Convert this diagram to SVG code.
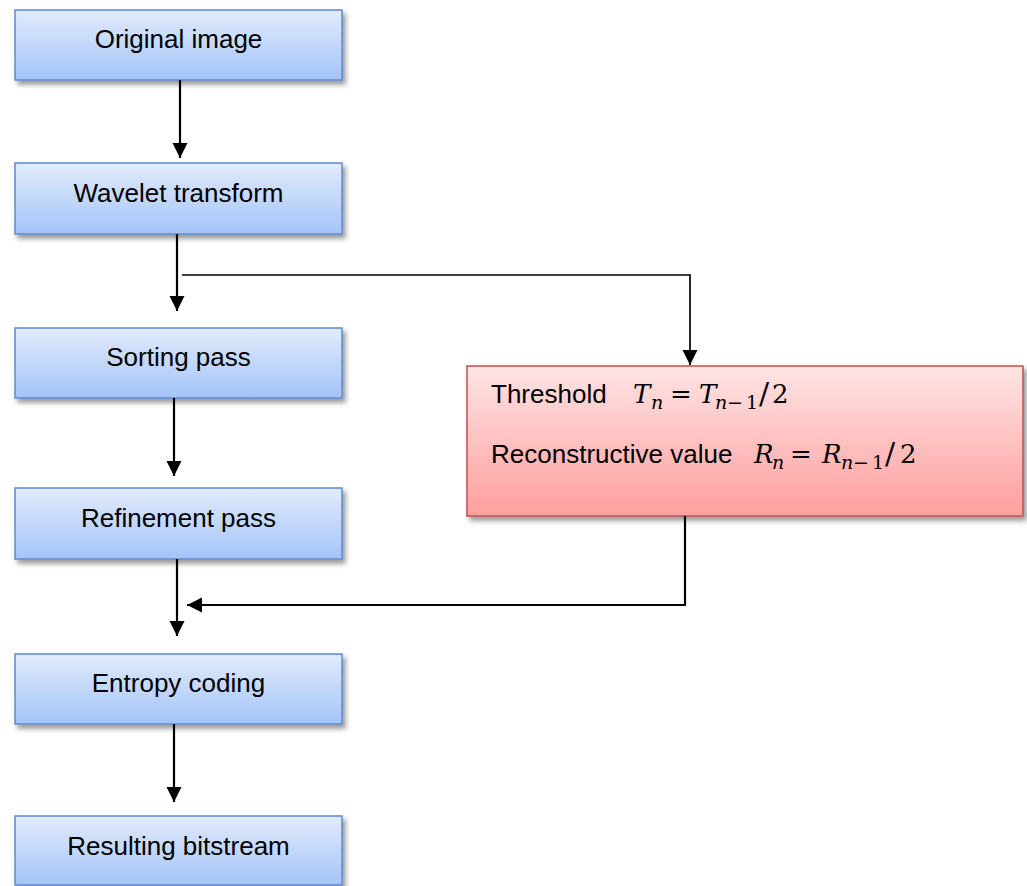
<svg xmlns="http://www.w3.org/2000/svg" width="1027" height="886" viewBox="0 0 1027 886">
  <defs>
    <linearGradient id="blueFill" x1="0" y1="0" x2="0" y2="1">
      <stop offset="0" stop-color="#e2ebfc"/>
      <stop offset="1" stop-color="#a3c4f9"/>
    </linearGradient>
    <linearGradient id="redFill" x1="0" y1="0" x2="0" y2="1">
      <stop offset="0" stop-color="#ffe4e4"/>
      <stop offset="1" stop-color="#ff9e9e"/>
    </linearGradient>
    <filter id="shadow" x="-10%" y="-20%" width="125%" height="150%">
      <feDropShadow dx="3" dy="4" stdDeviation="2.5" flood-color="#000" flood-opacity="0.4"/>
    </filter>
    <marker id="arrow" markerUnits="userSpaceOnUse" markerWidth="16" markerHeight="16" refX="15" refY="7.5" orient="auto">
      <path d="M0,0 L15,7.5 L0,15 z" fill="#000"/>
    </marker>
    <style>
      .step { fill: url(#blueFill); stroke: #5b8bd2; stroke-width: 1.5; filter: url(#shadow); }
      .param { fill: url(#redFill); stroke: #c0504d; stroke-width: 1.5; filter: url(#shadow); }
      .label { font-family: "Liberation Sans", Arial, sans-serif; font-size: 26px; fill: #000; }
      .mid { text-anchor: middle; }
      .math { font-family: "DejaVu Serif", "Liberation Serif", serif; fill: #000; }
      .mi { font-style: italic; }
      .big { font-size: 26px; }
      .slash { font-size: 30px; }
      .sub { font-size: 19px; }
      .link { fill: none; stroke: #000; stroke-width: 2.2; }
      .thin { stroke-width: 1.7; }
    </style>
  </defs>

  <!-- main pipeline -->
  <g id="original-image">
    <rect class="step" x="15" y="10" width="327" height="70"/>
    <text class="label mid" x="178.5" y="48">Original image</text>
  </g>
  <g id="wavelet-transform">
    <rect class="step" x="15" y="163" width="327" height="71"/>
    <text class="label mid" x="178.5" y="202">Wavelet transform</text>
  </g>
  <g id="sorting-pass">
    <rect class="step" x="15" y="328" width="327" height="70"/>
    <text class="label mid" x="178.5" y="366">Sorting pass</text>
  </g>
  <g id="refinement-pass">
    <rect class="step" x="15" y="488" width="327" height="71"/>
    <text class="label mid" x="178.5" y="527">Refinement pass</text>
  </g>
  <g id="entropy-coding">
    <rect class="step" x="15" y="654" width="327" height="70"/>
    <text class="label mid" x="178.5" y="692">Entropy coding</text>
  </g>
  <g id="resulting-bitstream">
    <rect class="step" x="15" y="816" width="327" height="69"/>
    <text class="label mid" x="178.5" y="855">Resulting bitstream</text>
  </g>

  <!-- threshold / reconstruction update -->
  <g id="threshold-update">
    <rect class="param" x="467" y="366" width="556" height="150"/>
    <text class="label" x="491" y="403">Threshold</text>
    <text class="math mi big" x="633" y="403">T</text>
    <text class="math mi sub" x="651" y="409">n</text>
    <text class="math big" x="670" y="403">=</text>
    <text class="math mi big" x="699" y="403">T</text>
    <text class="math mi sub" x="715" y="409">n</text>
    <text class="math sub" x="727" y="409">−</text>
    <text class="math sub" x="746" y="409">1</text>
    <text class="math slash" x="759" y="404">/</text>
    <text class="math big" x="772" y="403">2</text>

    <text class="label" x="491" y="463">Reconstructive value</text>
    <text class="math mi big" x="754" y="463">R</text>
    <text class="math mi sub" x="772" y="469">n</text>
    <text class="math big" x="790" y="463">=</text>
    <text class="math mi big" x="822" y="463">R</text>
    <text class="math mi sub" x="841" y="469">n</text>
    <text class="math sub" x="853" y="469">−</text>
    <text class="math sub" x="872" y="469">1</text>
    <text class="math slash" x="885" y="464">/</text>
    <text class="math big" x="900" y="463">2</text>
  </g>

  <!-- connectors -->
  <g id="connectors">
    <path class="link" d="M180,80 V158" marker-end="url(#arrow)"/>
    <path class="link" d="M177,234 V311" marker-end="url(#arrow)"/>
    <path class="link thin" d="M182,275 H690 V365" marker-end="url(#arrow)"/>
    <path class="link" d="M174,398 V476" marker-end="url(#arrow)"/>
    <path class="link" d="M177,559 V636" marker-end="url(#arrow)"/>
    <path class="link" d="M685,516 V605 H187" marker-end="url(#arrow)"/>
    <path class="link" d="M174,724 V802" marker-end="url(#arrow)"/>
  </g>
</svg>
